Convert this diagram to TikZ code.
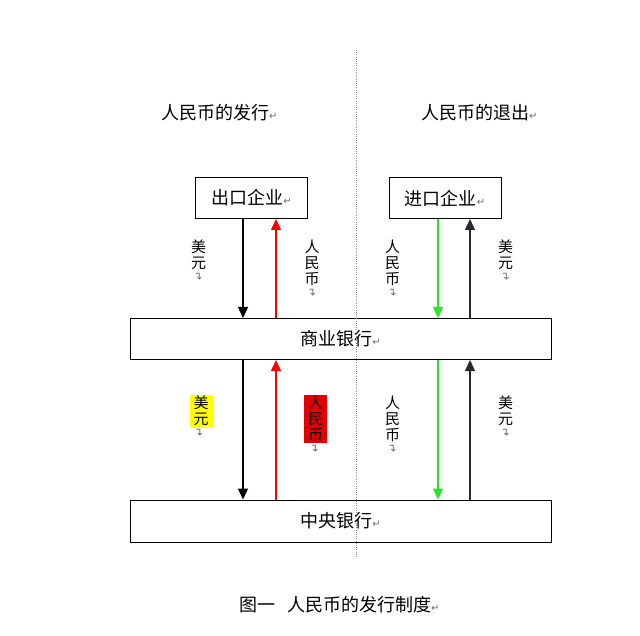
\documentclass[tikz,border=0pt]{standalone}
\usepackage{fontspec}
\usepackage{graphicx}
\setmainfont{Noto Sans CJK SC}
\newfontfamily\symfont{DejaVu Sans}
\usetikzlibrary{arrows.meta}
\definecolor{markgray}{RGB}{110,110,110}
\definecolor{arrred}{RGB}{255,0,0}
\definecolor{arrgreen}{RGB}{40,230,40}
\definecolor{hlred}{RGB}{226,0,0}
\definecolor{hlyellow}{RGB}{255,255,0}
\definecolor{darkline}{RGB}{40,40,50}
\definecolor{dotgray}{RGB}{140,140,140}
\newcommand{\retmark}{{\symfont\color{markgray}\fontsize{10}{10}\selectfont ↵}}
\newcommand{\vmark}{{\symfont\color{markgray}\fontsize{11}{11}\selectfont\rotatebox{90}{↵}}}
\newcommand{\bigtxt}{\fontsize{18}{20}\selectfont}
\newcommand{\vtxt}{\fontsize{15}{16}\selectfont}
\begin{document}
\begin{tikzpicture}[x=1pt,y=-1pt,
  box/.style={draw=black, line width=1pt, inner sep=0pt, font=\bigtxt},
  arr/.style={line width=1.3pt,-{Triangle[width=10pt,length=11pt]}},
  vlab/.style={inner xsep=4pt, inner ysep=1pt, anchor=north, align=center, font=\vtxt},
  vm/.style={inner sep=0pt, anchor=north},
  txt/.style={anchor=west, font=\bigtxt, inner sep=0pt}]
\useasboundingbox[fill=white] (0,0) rectangle (640,636);

% titles
\node[txt] (t1) at (161,113) {人民币的发行\retmark};
\node[txt] (t2) at (421,113) {人民币的退出\retmark};

% boxes
\node[box, minimum width=112pt, minimum height=41pt] (ck) at (251.5,198) {出口企业\retmark};
\node[box, minimum width=112pt, minimum height=41pt] (jk) at (445,198) {进口企业\retmark};
\node[box, minimum width=421pt, minimum height=41pt] (sy) at (340.5,339) {商业银行\retmark};
\node[box, minimum width=421pt, minimum height=42pt] (zy) at (340.5,521) {中央银行\retmark};

% arrow columns
\coordinate (xa) at (243,0);
\coordinate (xb) at (276,0);
\coordinate (xc) at (438,0);
\coordinate (xd) at (470,0);

% upper arrows
\draw[arr, draw=black, fill=black] (ck.south -| xa) -- (sy.north -| xa);
\draw[arr, draw=arrred, fill=arrred] (sy.north -| xb) -- (ck.south -| xb);
\draw[arr, draw=arrgreen, fill=arrgreen] (jk.south -| xc) -- (sy.north -| xc);
\draw[arr, draw=darkline, fill=darkline] (sy.north -| xd) -- (jk.south -| xd);

% lower arrows
\draw[arr, draw=black, fill=black] (sy.south -| xa) -- (zy.north -| xa);
\draw[arr, draw=arrred, fill=arrred] (zy.north -| xb) -- (sy.south -| xb);
\draw[arr, draw=arrgreen, fill=arrgreen] (sy.south -| xc) -- (zy.north -| xc);
\draw[arr, draw=darkline, fill=darkline] (zy.north -| xd) -- (sy.south -| xd);

% upper labels
\node[vlab] (l1) at (198.5,239) {美\\元};
\node[vm] (m1) at ([xshift=1pt]l1.south) {\vmark};
\node[vlab] (l2) at (312,239) {人\\民\\币};
\node[vm] (m2) at ([xshift=1pt]l2.south) {\vmark};
\node[vlab] (l3) at (392.5,239) {人\\民\\币};
\node[vm] (m3) at ([xshift=1pt]l3.south) {\vmark};
\node[vlab] (l4) at (505.5,239) {美\\元};
\node[vm] (m4) at ([xshift=1pt]l4.south) {\vmark};

% lower labels
\node[vlab, fill=hlyellow] (l5) at (201,395) {美\\元};
\node[vm] (m5) at ([xshift=-1pt]l5.south) {\vmark};
\node[vlab, fill=hlred] (l6) at (315.5,395) {人\\民\\币};
\node[vm] (m6) at (l6.south) {\vmark};
\node[vlab] (l7) at (392.5,395) {人\\民\\币};
\node[vm] (m7) at ([xshift=1pt]l7.south) {\vmark};
\node[vlab] (l8) at (505.5,395) {美\\元};
\node[vm] (m8) at ([xshift=1pt]l8.south) {\vmark};

% caption
\node[txt] (cap) at (239,605) {图一\hspace{12pt}人民币的发行制度\retmark};

% dotted divider
\coordinate (dtop) at (356.5,50);
\coordinate (dbot) at (356.5,557);
\draw[dotgray, line width=0.9pt, dash pattern=on 1pt off 1.2pt] (dtop) -- (dbot);
\end{tikzpicture}
\end{document}
